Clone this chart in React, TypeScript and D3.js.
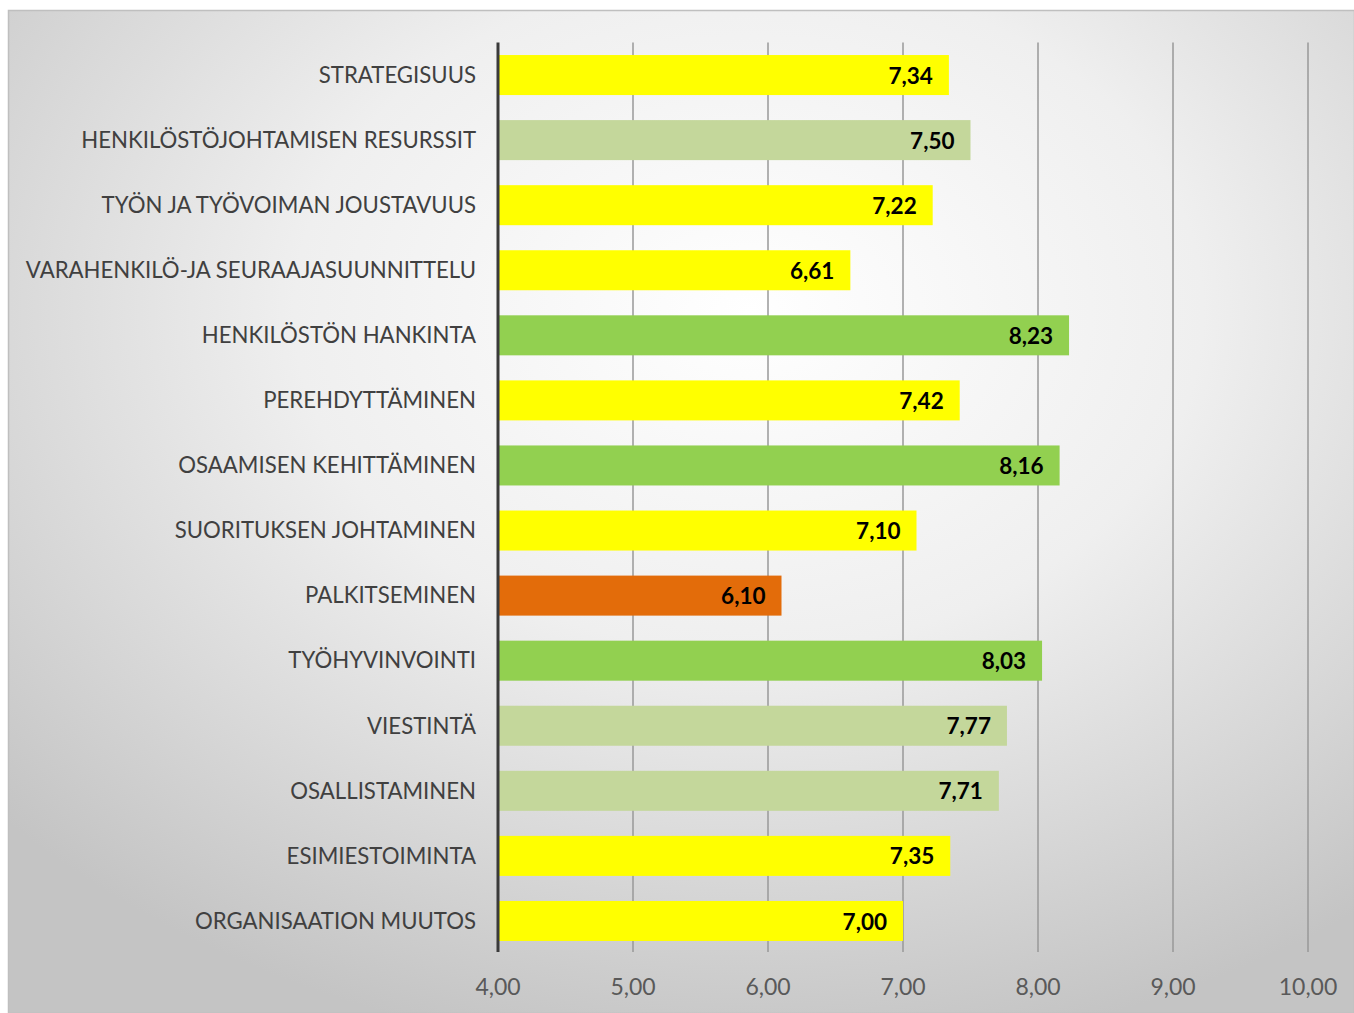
import React from "react";
import * as d3 from "d3";

const categories = [
  "STRATEGISUUS",
  "HENKILÖSTÖJOHTAMISEN RESURSSIT",
  "TYÖN JA TYÖVOIMAN JOUSTAVUUS",
  "VARAHENKILÖ-JA SEURAAJASUUNNITTELU",
  "HENKILÖSTÖN HANKINTA",
  "PEREHDYTTÄMINEN",
  "OSAAMISEN KEHITTÄMINEN",
  "SUORITUKSEN JOHTAMINEN",
  "PALKITSEMINEN",
  "TYÖHYVINVOINTI",
  "VIESTINTÄ",
  "OSALLISTAMINEN",
  "ESIMIESTOIMINTA",
  "ORGANISAATION MUUTOS",
];
const values = [7.34, 7.5, 7.22, 6.61, 8.23, 7.42, 8.16, 7.1, 6.1, 8.03, 7.77, 7.71, 7.35, 7.0];
const levels = ["y", "lg", "y", "y", "g", "y", "g", "y", "o", "g", "lg", "lg", "y", "y"];
const ticks = [4, 5, 6, 7, 8, 9, 10];

const levelColor: Record<string, string> = {
  y: "#FFFF00",
  lg: "#C4D79B",
  g: "#92D050",
  o: "#E36C0A",
};

const W = 1354;
const H = 1013;
const fmt = (v: number) => v.toFixed(2).replace(".", ",");

export default function App() {
  const x = d3.scaleLinear().domain([4, 10]).range([498, 1308]);
  const y = d3.scaleBand<string>().domain(categories).range([42.5, 953.5]).paddingInner(0.385).paddingOuter(0.1925);
  const font = "Lato, 'Open Sans', sans-serif";
  return (
    <svg width={W} height={H} style={{ position: "absolute", left: 0, top: 0 }}>
      <defs>
        <radialGradient id="bg" cx="0.55" cy="0.3" r="0.75">
          <stop offset="0" stopColor="#ffffff" />
          <stop offset="0.45" stopColor="#efefef" />
          <stop offset="1" stopColor="#c4c4c4" />
        </radialGradient>
      </defs>
      <rect x={0} y={0} width={W} height={H} fill="#ffffff" />
      <rect x={8.5} y={10.5} width={W - 8} height={H - 10} fill="url(#bg)" stroke="#bfbfbf" strokeWidth={1.5} />
      {ticks.slice(1).map((t) => (
        <line key={t} x1={x(t)} x2={x(t)} y1={42.5} y2={952} stroke="#999999" strokeWidth={1.5} />
      ))}
      {categories.map((c, i) => (
        <rect key={c} x={x(4)} y={y(c)} width={x(values[i]) - x(4)} height={y.bandwidth()} fill={levelColor[levels[i]]} />
      ))}
      <line x1={x(4)} x2={x(4)} y1={42.5} y2={952} stroke="#3a3a3a" strokeWidth={3} />
      {categories.map((c) => (
        <text key={c} x={476} y={(y(c) ?? 0) + y.bandwidth() / 2} dy="0.35em" textAnchor="end" fontFamily={font} fontSize={22.2} fill="#404040">
          {c}
        </text>
      ))}
      {categories.map((c, i) => (
        <text key={c} x={x(values[i]) - 16} y={(y(c) ?? 0) + y.bandwidth() / 2} dy="0.38em" textAnchor="end" fontFamily={font} fontSize={22.5} fontWeight="bold" fill="#000">
          {fmt(values[i])}
        </text>
      ))}
      {ticks.map((t) => (
        <text key={t} x={x(t)} y={987} dy="0.35em" textAnchor="middle" fontFamily={font} fontSize={23} fill="#595959">
          {fmt(t)}
        </text>
      ))}
    </svg>
  );
}
